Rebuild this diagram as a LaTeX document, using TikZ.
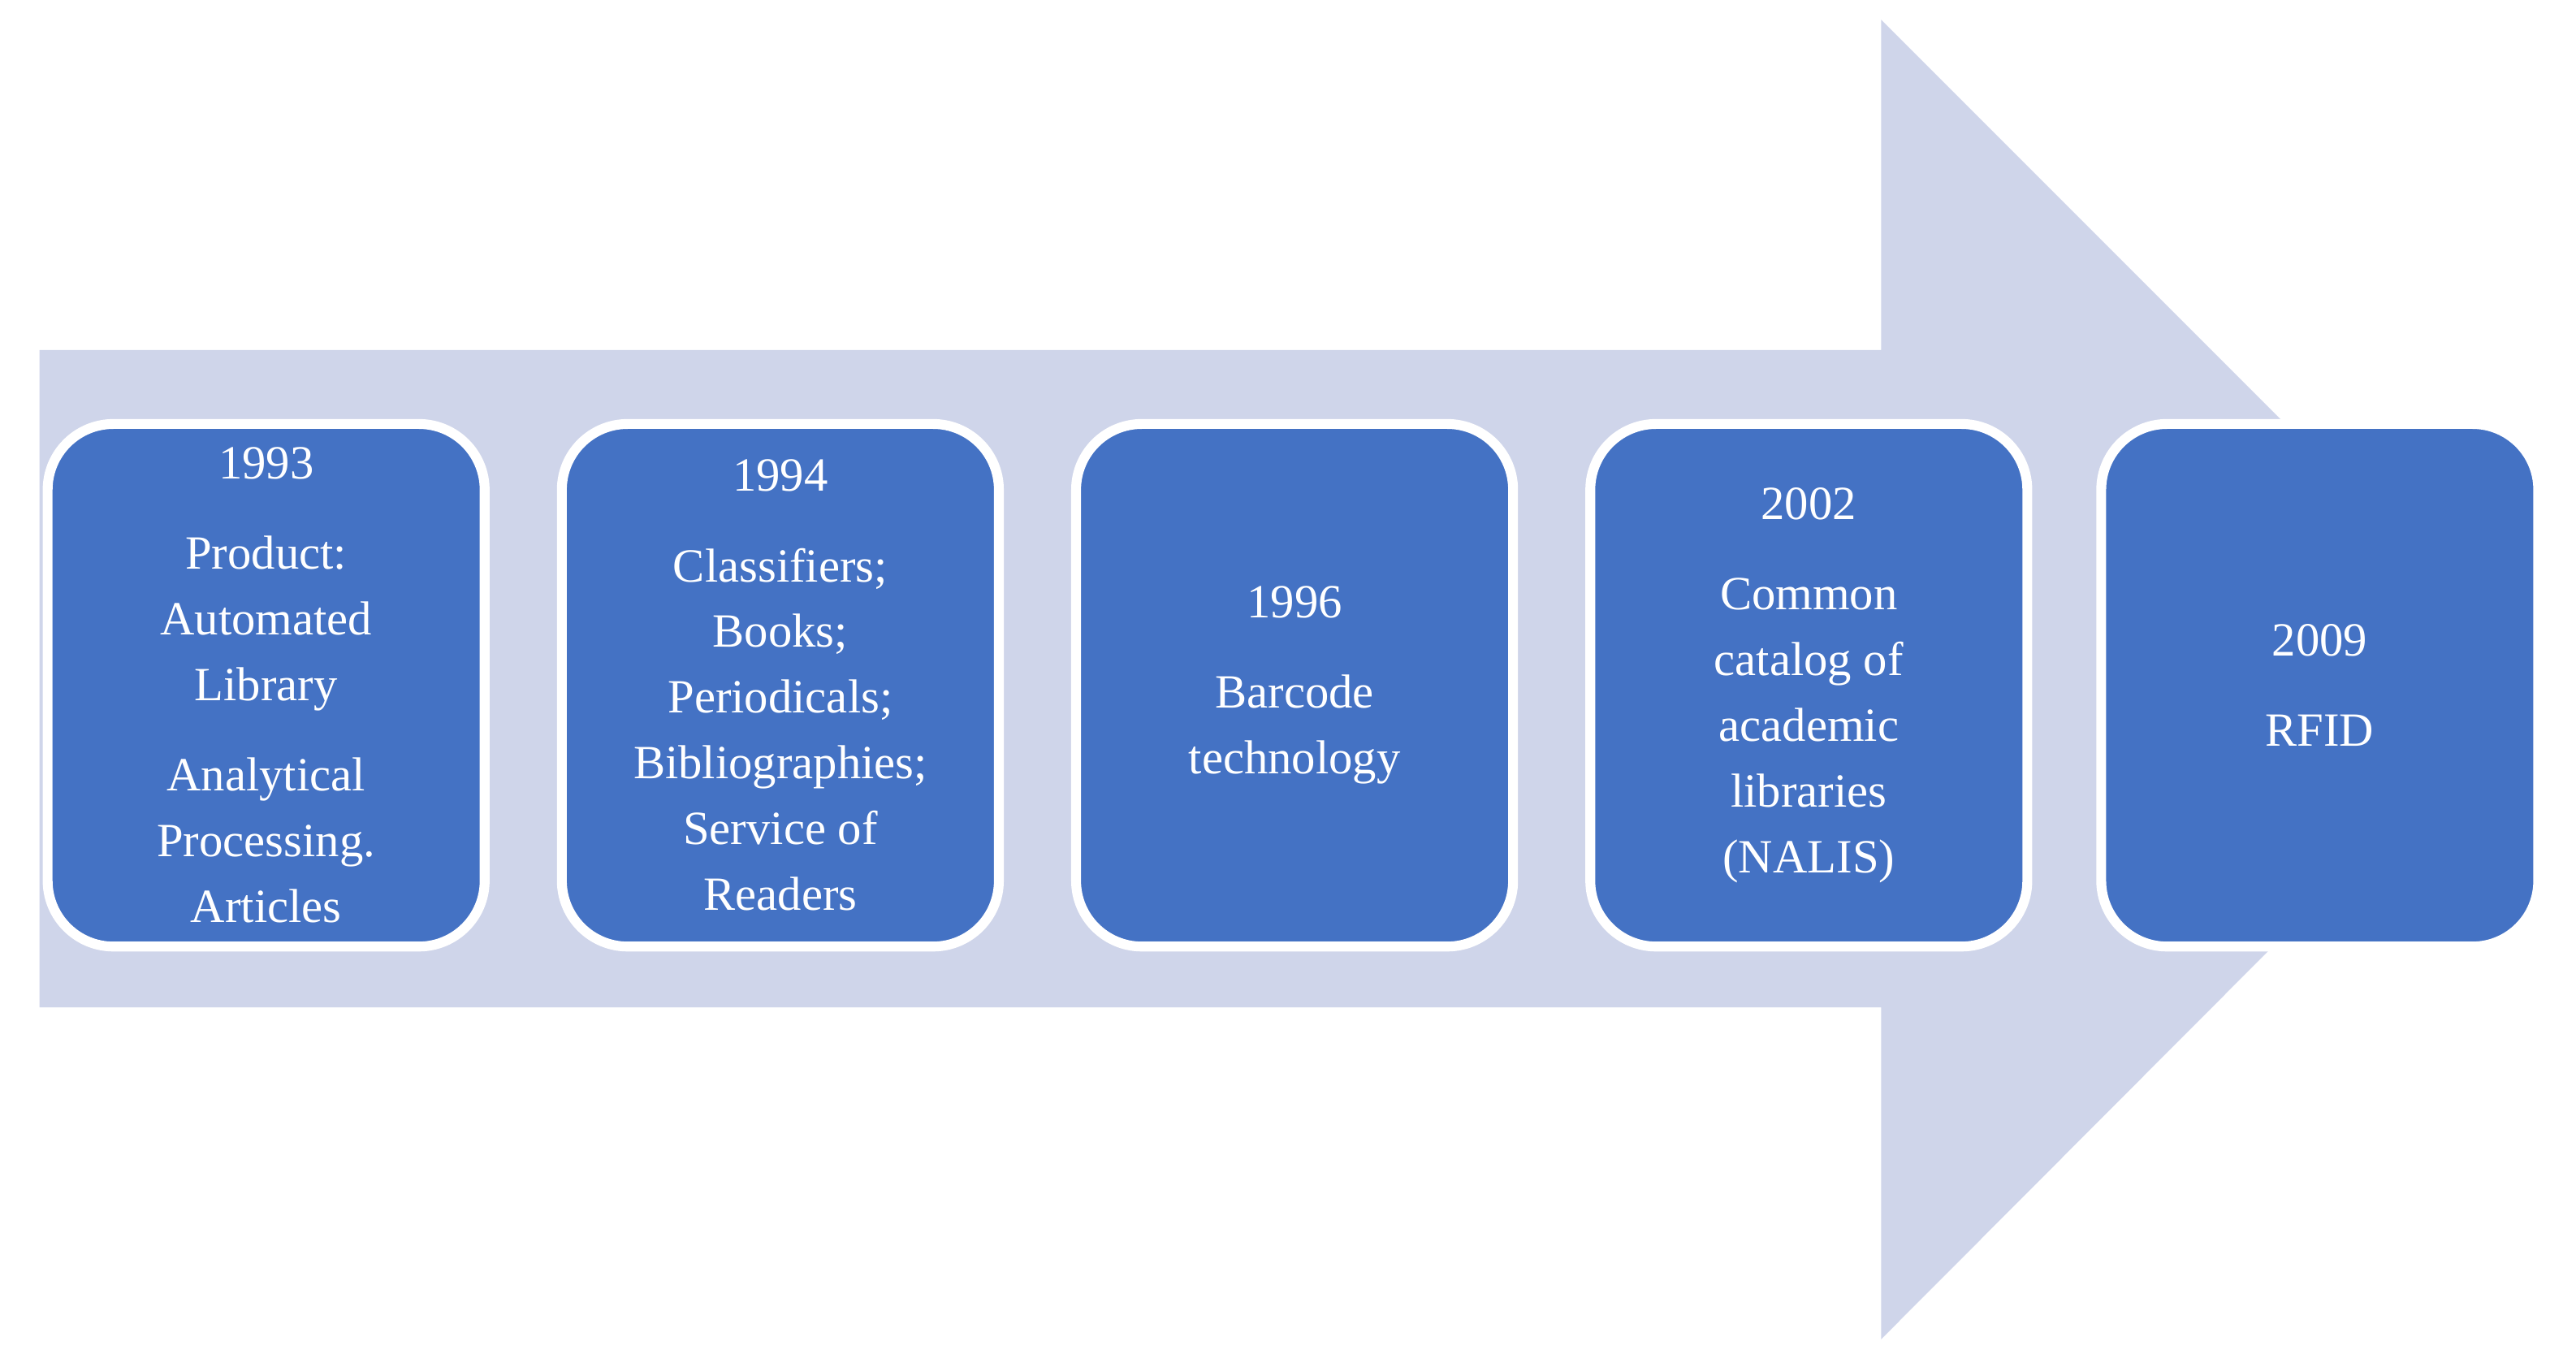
\documentclass[tikz,border=0pt]{standalone}
\usepackage{fontspec}
\setmainfont{Liberation Serif}
\begin{document}
\begin{tikzpicture}[x=1pt,y=-1pt,
  box/.style={draw=white,line width=6pt,fill=boxblue,rounded corners=40pt,minimum width=266pt,minimum height=318pt,anchor=north west},
  lbl/.style={text=white,align=center,font=\fontsize{29}{40}\selectfont}]
\definecolor{boxblue}{HTML}{4472C4}
\definecolor{arrowc}{HTML}{CFD5EA}
\useasboundingbox (0,0) rectangle (1568,827);
\fill[arrowc] (24,213) -- (1145,213) -- (1145,12) -- (1546,413) -- (1145,815) -- (1145,613) -- (24,613) -- cycle;
\node[box] (b1) at (26,255) {};
\node[box] (b2) at (339,255) {};
\node[box] (b3) at (652,255) {};
\node[box] (b4) at (965,255) {};
\node[box] (b5) at (1276,255) {};
\node[lbl] (t1) at (b1.center) {1993\\[15pt]Product:\\Automated\\Library\\[15pt]Analytical\\Processing.\\Articles};
\node[lbl] (t2) at (b2.center) {1994\\[15pt]Classifiers;\\Books;\\Periodicals;\\Bibliographies;\\Service of\\Readers};
\node[lbl] (t3) at (b3.center) {1996\\[15pt]Barcode\\technology};
\node[lbl] (t4) at (b4.center) {2002\\[15pt]Common\\catalog of\\academic\\libraries\\(NALIS)};
\node[lbl] (t5) at (b5.center) {2009\\[15pt]RFID};
\end{tikzpicture}
\end{document}
